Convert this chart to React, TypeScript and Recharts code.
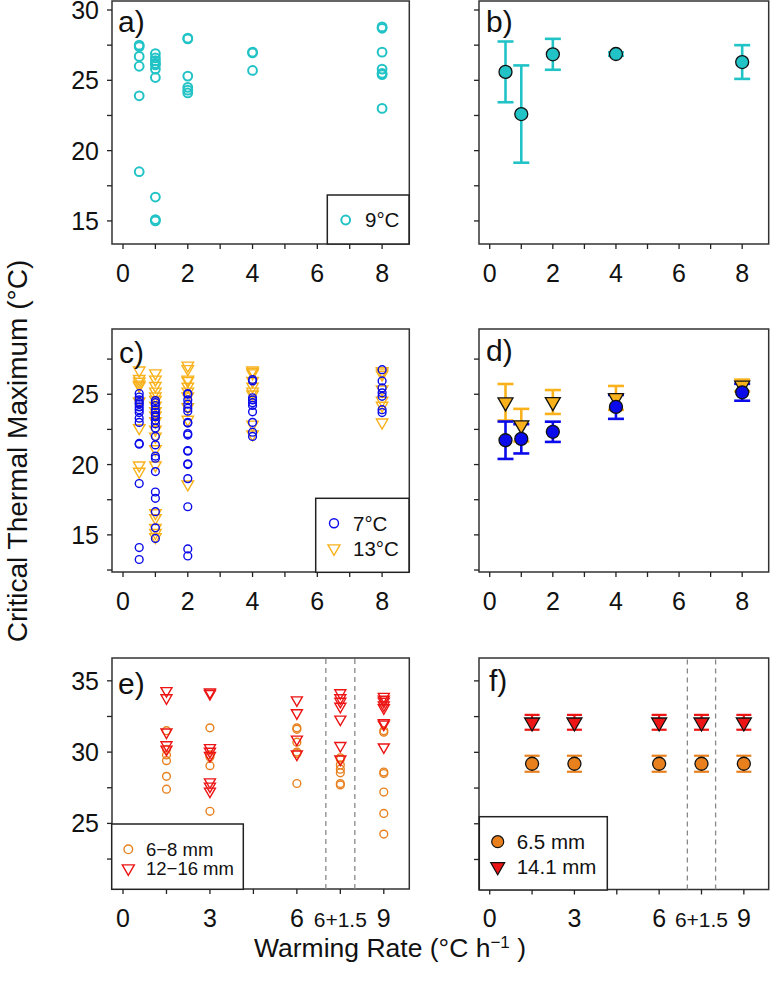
import { ScatterChart, Scatter, XAxis, YAxis, ErrorBar, ReferenceArea, ReferenceLine } from 'recharts';

const FONT = '"Liberation Sans", Arial, sans-serif';

// warming rates, °C per hour
const ratesAD = [0.5, 1, 2, 4, 8];
const ratesEF = [1.5, 3, 6, 7.5, 9];

// a) individual CTmax, 9°C acclimation (one list per rate)
const ct9C = [
  [27.5, 27.4, 26.7, 26.0, 23.9, 18.5],
  [26.9, 26.6, 26.4, 26.2, 26.1, 25.8, 25.2, 16.7, 15.1, 15.0],
  [28.0, 27.95, 25.3, 24.5, 24.3, 24.1],
  [27.0, 26.95, 25.7],
  [28.8, 28.7, 27.0, 25.8, 25.5, 25.4, 23.0],
];
// b) mean ± SD, 9°C
const mean9C = [25.6, 22.6, 26.85, 26.87, 26.3];
const sd9C = [2.16, 3.46, 1.1, 0.12, 1.2];

// c) individual CTmax, 7°C and 13°C
const ct7C = [
  [25.05, 24.8, 24.6, 24.4, 24.3, 24.1, 23.9, 23.7, 23.3, 23.0, 21.5, 21.45, 18.65, 14.1, 13.25],
  [24.55, 24.4, 24.2, 23.9, 23.7, 23.5, 23.4, 23.15, 22.9, 22.6, 22.0, 21.4, 20.6, 20.45, 19.5, 18.05, 17.6, 16.65, 15.5, 14.75],
  [25.05, 25.0, 24.6, 24.3, 24.0, 23.8, 23.0, 22.95, 22.2, 22.1, 21.0, 20.95, 20.05, 20.0, 19.0, 17.0, 14.0, 13.5],
  [26.05, 25.95, 24.75, 24.6, 24.4, 24.2, 23.75, 23.0, 22.3, 22.0],
  [26.75, 25.95, 25.45, 25.1, 24.85, 23.9, 23.7],
];
const ct13C = [
  [26.7, 26.1, 25.9, 25.7, 25.6, 24.5, 22.6, 19.95, 19.5],
  [26.5, 26.05, 25.6, 25.2, 24.85, 24.6, 24.2, 23.8, 23.5, 23.1, 22.5, 22.0, 21.1, 19.95, 16.55, 16.2, 15.5, 15.15, 14.85],
  [27.05, 26.8, 26.05, 25.95, 25.55, 25.2, 24.85, 24.1, 23.2, 18.6],
  [26.7, 26.6, 26.5, 25.95, 25.55, 25.2, 25.0, 22.85, 22.15],
  [26.65, 26.55, 26.4, 25.35, 24.55, 24.2, 23.0],
];
// d) mean ± SD
const mean7C = [21.73, 21.83, 22.33, 24.1, 25.14];
const sd7C = [1.33, 1.04, 0.72, 0.85, 0.6];
const mean13C = [24.43, 22.8, 24.45, 24.74, 25.62];
const sd13C = [1.3, 1.16, 0.85, 0.85, 0.42];

// e) individual CTmax by body size
const ctSmall = [
  [31.5, 30.2, 29.8, 29.4, 28.3, 27.4],
  [31.7, 29.8, 29.65, 29.05, 25.85],
  [31.7, 31.6, 30.7, 30.0, 29.9, 27.8],
  [29.6, 29.5, 29.1, 28.8, 28.55, 27.8, 27.7],
  [31.5, 31.4, 28.6, 28.5, 27.2, 25.7, 24.25],
];
const ctLarge = [
  [34.3, 33.8, 31.4, 30.5, 30.2],
  [34.2, 34.1, 30.3, 30.05, 29.75, 27.9, 27.6, 27.25],
  [33.65, 32.75, 30.9, 29.85],
  [34.15, 33.8, 33.55, 33.2, 32.3, 30.45, 29.5],
  [33.9, 33.7, 33.55, 33.3, 33.1, 32.05, 31.95, 30.35],
];
// f) predicted mean ± SE
const mean65 = [29.2, 29.2, 29.2, 29.2, 29.2];
const sd65 = [0.56, 0.56, 0.56, 0.56, 0.56];
const mean141 = [32.1, 32.1, 32.1, 32.1, 32.1];
const sd141 = [0.52, 0.52, 0.52, 0.52, 0.52];

const xTicksAD = [0, 1, 2, 3, 4, 5, 6, 7, 8];
const xLabelsAD: Record<string, string> = { '0': '0', '2': '2', '4': '4', '6': '6', '8': '8' };
const xTicksEF = [0, 1.5, 3, 4.5, 6, 7.5, 9];
const xLabelsEF: Record<string, string> = { '0': '0', '3': '3', '6': '6', '7.5': '6+1.5', '9': '9' };

const CYAN = '#22c3c6';
const BLUE = '#0a0aea';
const GOLD = '#f9b21c';
const ORANGE = '#e8801e';
const RED = '#ec1414';

const spread = (rates: number[], groups: number[][]) =>
  groups.flatMap((g, i) => g.map((y) => ({ x: rates[i], y })));
const withSd = (rates: number[], means: number[], sds: number[]) =>
  rates.map((x, i) => ({ x, y: means[i], e: sds[i] }));

const ring = (color: string, r: number, sw: number) => (p: any) =>
  <circle cx={p.cx} cy={p.cy} r={r} fill="none" stroke={color} strokeWidth={sw} />;
const dot = (fill: string, r: number) => (p: any) =>
  <circle cx={p.cx} cy={p.cy} r={r} fill={fill} stroke="#111" strokeWidth={1.3} />;
const triPts = (cx: number, cy: number, s: number) => {
  const R = s / Math.sqrt(3);
  return `${cx - s / 2},${cy - R / 2} ${cx + s / 2},${cy - R / 2} ${cx},${cy + R}`;
};
const tri = (color: string, s: number, sw: number) => (p: any) =>
  <polygon points={triPts(p.cx, p.cy, s)} fill="none" stroke={color} strokeWidth={sw} />;
const triFilled = (fill: string, s: number) => (p: any) =>
  <polygon points={triPts(p.cx, p.cy, s)} fill={fill} stroke="#111" strokeWidth={1.3} />;

function XTick(props: any) {
  const { x, y, payload, labels } = props;
  const t = labels[String(payload.value)];
  if (!t) return null;
  return (
    <text x={x} y={y + 31} textAnchor="middle" fontSize={t.length > 2 ? 21 : 25} fill="#111" fontFamily={FONT}>
      {t}
    </text>
  );
}

function YTick(props: any) {
  const { x, y, payload, shown } = props;
  if (!shown || !shown.includes(payload.value)) return null;
  return (
    <text x={x - 6} y={y + 9} textAnchor="end" fontSize={25} fill="#111" fontFamily={FONT}>
      {payload.value}
    </text>
  );
}

function Panel(p: any) {
  const ML = 60, MT = 12, MB = 50, MR = 2;
  const tl = { stroke: '#222', strokeWidth: 1.3 };
  return (
    <div style={{ position: 'absolute', left: p.left - ML, top: p.top - MT }}>
      <ScatterChart width={p.w + ML + MR} height={p.h + MT + MB} margin={{ top: MT, right: MR, bottom: 0, left: 0 }}>
        <XAxis type="number" dataKey="x" domain={p.xDomain} ticks={p.xTicks} interval={0} allowDataOverflow
          axisLine={false} tickSize={5} tickLine={tl} height={MB}
          tick={(t: any) => <XTick {...t} labels={p.xLabels} />} />
        <YAxis type="number" dataKey="y" domain={p.yDomain} ticks={p.yTicks} interval={0} allowDataOverflow
          axisLine={false} tickSize={5} tickLine={tl} width={ML}
          tick={(t: any) => <YTick {...t} shown={p.yLabels} />} />
        <ReferenceArea x1={p.xDomain[0]} x2={p.xDomain[1]} y1={p.yDomain[0]} y2={p.yDomain[1]}
          fill="none" fillOpacity={0} stroke="#333" strokeWidth={1.5} />
        {p.children}
      </ScatterChart>
    </div>
  );
}

const domAD: [number, number] = [-0.34, 8.84];
const domEF: [number, number] = [-0.38, 9.88];
const yAB: [number, number] = [13.36, 30.64];
const yCD: [number, number] = [12.36, 29.64];
const yEF: [number, number] = [20.4, 36.6];
const yTicksAB = [15, 17.5, 20, 22.5, 25, 27.5, 30];
const yTicksCD = [12.5, 15, 17.5, 20, 22.5, 25, 27.5];
const yTicksEF = [22.5, 25, 27.5, 30, 32.5, 35];

function LegendBox({ x1, y1, x2, y2 }: any) {
  return <rect x={x1} y={y1} width={x2 - x1} height={y2 - y1} fill="#fff" stroke="#222" strokeWidth={1.5} />;
}

export default function App() {
  const L1 = 111.7, W1 = 297.3, L2 = 479.3, W2 = 289.7;
  return (
    <div style={{ position: 'absolute', left: 0, top: 0, width: 771, height: 996, background: '#fff', fontFamily: FONT }}>
      <Panel left={L1} top={1} w={W1} h={243} xDomain={domAD} xTicks={xTicksAD} xLabels={xLabelsAD}
        yDomain={yAB} yTicks={yTicksAB} yLabels={[15, 20, 25, 30]}>
        <Scatter data={spread(ratesAD, ct9C)} shape={ring(CYAN, 4.4, 2)} isAnimationActive={false} />
      </Panel>
      <Panel left={L2} top={1} w={W2} h={243} xDomain={domAD} xTicks={xTicksAD} xLabels={xLabelsAD}
        yDomain={yAB} yTicks={yTicksAB} yLabels={null}>
        <Scatter data={withSd(ratesAD, mean9C, sd9C)} shape={dot(CYAN, 6.5)} isAnimationActive={false}>
          <ErrorBar dataKey="e" direction="y" width={8} strokeWidth={2.6} stroke={CYAN} />
        </Scatter>
      </Panel>
      <Panel left={L1} top={329.3} w={W1} h={243} xDomain={domAD} xTicks={xTicksAD} xLabels={xLabelsAD}
        yDomain={yCD} yTicks={yTicksCD} yLabels={[15, 20, 25]}>
        <Scatter data={spread(ratesAD, ct13C)} shape={tri(GOLD, 11.5, 1.4)} isAnimationActive={false} />
        <Scatter data={spread(ratesAD, ct7C)} shape={ring(BLUE, 3.9, 1.4)} isAnimationActive={false} />
      </Panel>
      <Panel left={L2} top={329.3} w={W2} h={243} xDomain={domAD} xTicks={xTicksAD} xLabels={xLabelsAD}
        yDomain={yCD} yTicks={yTicksCD} yLabels={null}>
        <Scatter data={withSd(ratesAD, mean13C, sd13C)} shape={triFilled(GOLD, 15)} isAnimationActive={false}>
          <ErrorBar dataKey="e" direction="y" width={8} strokeWidth={2.6} stroke={GOLD} />
        </Scatter>
        <Scatter data={withSd(ratesAD, mean7C, sd7C)} shape={dot(BLUE, 6.5)} isAnimationActive={false}>
          <ErrorBar dataKey="e" direction="y" width={8} strokeWidth={2.6} stroke={BLUE} />
        </Scatter>
      </Panel>
      <Panel left={L1} top={658.3} w={W1} h={231} xDomain={domEF} xTicks={xTicksEF} xLabels={xLabelsEF}
        yDomain={yEF} yTicks={yTicksEF} yLabels={[25, 30, 35]}>
        <ReferenceLine x={7} stroke="#888" strokeDasharray="5 4" strokeWidth={1.3} />
        <ReferenceLine x={8} stroke="#888" strokeDasharray="5 4" strokeWidth={1.3} />
        <Scatter data={spread(ratesEF, ctSmall)} shape={ring(ORANGE, 3.9, 1.4)} isAnimationActive={false} />
        <Scatter data={spread(ratesEF, ctLarge)} shape={tri(RED, 11, 1.4)} isAnimationActive={false} />
      </Panel>
      <Panel left={L2} top={658.3} w={W2} h={231.5} xDomain={domEF} xTicks={xTicksEF} xLabels={xLabelsEF}
        yDomain={yEF} yTicks={yTicksEF} yLabels={null}>
        <ReferenceLine x={7} stroke="#888" strokeDasharray="5 4" strokeWidth={1.3} />
        <ReferenceLine x={8} stroke="#888" strokeDasharray="5 4" strokeWidth={1.3} />
        <Scatter data={withSd(ratesEF, mean65, sd65)} shape={dot(ORANGE, 6.5)} isAnimationActive={false}>
          <ErrorBar dataKey="e" direction="y" width={7.5} strokeWidth={2.2} stroke={ORANGE} />
        </Scatter>
        <Scatter data={withSd(ratesEF, mean141, sd141)} shape={triFilled(RED, 15)} isAnimationActive={false}>
          <ErrorBar dataKey="e" direction="y" width={7.5} strokeWidth={2.2} stroke={RED} />
        </Scatter>
      </Panel>

      <svg width={771} height={996} style={{ position: 'absolute', left: 0, top: 0, pointerEvents: 'none' }}
        fontFamily={FONT} fill="#111">
        {/* panel letters */}
        <text x={118} y={32} fontSize={30}>a)</text>
        <text x={486} y={32} fontSize={30}>b)</text>
        <text x={119} y={363} fontSize={30}>c)</text>
        <text x={486} y={361} fontSize={30}>d)</text>
        <text x={118} y={694} fontSize={30}>e)</text>
        <text x={489} y={691} fontSize={30}>f)</text>

        {/* legends */}
        <LegendBox x1={327.3} y1={195} x2={409} y2={244} />
        <circle cx={345.7} cy={220} r={4.4} fill="none" stroke={CYAN} strokeWidth={2} />
        <text x={365} y={227} fontSize={20.5}>9°C</text>

        <LegendBox x1={315.7} y1={498.3} x2={409} y2={572.3} />
        <circle cx={334} cy={523.3} r={4.5} fill="none" stroke={BLUE} strokeWidth={1.4} />
        <text x={353} y={530.5} fontSize={20.5}>7°C</text>
        <polygon points={triPts(334, 548.3, 12)} fill="none" stroke={GOLD} strokeWidth={1.4} />
        <text x={353} y={555.5} fontSize={20.5}>13°C</text>

        <LegendBox x1={111.7} y1={824} x2={243.3} y2={889.3} />
        <circle cx={128.3} cy={849.3} r={4.3} fill="none" stroke={ORANGE} strokeWidth={1.4} />
        <text x={146} y={856} fontSize={18.5}>6−8 mm</text>
        <polygon points={triPts(128.3, 868.3, 12)} fill="none" stroke={RED} strokeWidth={1.4} />
        <text x={146} y={875} fontSize={18.5}>12−16 mm</text>

        <LegendBox x1={479.3} y1={816.7} x2={607.3} y2={890} />
        <circle cx={497.7} cy={841.7} r={6} fill={ORANGE} stroke="#111" strokeWidth={1.2} />
        <text x={516.7} y={849} fontSize={20.5}>6.5 mm</text>
        <polygon points={triPts(497.7, 866.7, 14)} fill={RED} stroke="#111" strokeWidth={1.2} />
        <text x={516.7} y={874} fontSize={20.5}>14.1 mm</text>

        {/* axis titles */}
        <text transform="translate(27, 451) rotate(-90)" textAnchor="middle" fontSize={28}>
          Critical Thermal Maximum (°C)
        </text>
        <text x={390} y={957} textAnchor="middle" fontSize={26.5}>
          Warming Rate (°C h<tspan dy={-9} fontSize={17}>−1</tspan><tspan dy={9}> )</tspan>
        </text>
      </svg>
    </div>
  );
}
